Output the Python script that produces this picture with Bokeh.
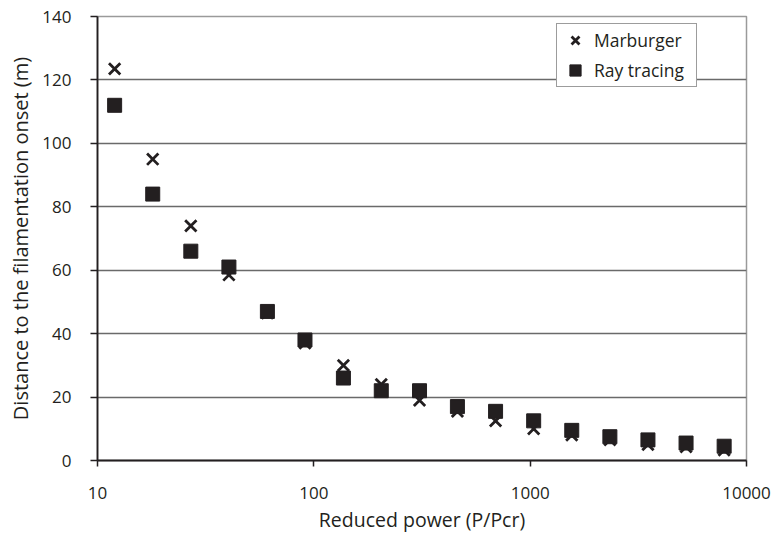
from bokeh.plotting import figure
from bokeh.models import Legend, LegendItem, FixedTicker
from bokeh.embed import file_html
from bokeh.resources import INLINE

# ---- data ----
power = [12, 18, 27, 40.5, 61, 91, 137, 205, 308, 461, 692, 1038, 1557, 2336, 3503, 5255, 7883]
marburger = [123.5, 95, 74, 58.5, 46.5, 37, 30, 24, 19, 15.5, 12.5, 10, 8, 6.5, 5, 4.3, 3.3]
ray_tracing = [112, 84, 66, 61, 47, 38, 26, 22, 22, 17, 15.5, 12.5, 9.5, 7.5, 6.5, 5.5, 4.5]
x_ticks = [10, 100, 1000, 10000]
x_tick_labels = ["10", "100", "1000", "10000"]
y_ticks = [0, 20, 40, 60, 80, 100, 120, 140]
series_names = ["Marburger", "Ray tracing"]

FONT = "Open Sans"
TICK_FS = "17px"
INK = "#231f20"

p = figure(width=771, height=535, x_axis_type="log",
           x_range=(x_ticks[0], x_ticks[-1]), y_range=(y_ticks[0], y_ticks[-1]),
           output_backend="svg", toolbar_location=None,
           min_border_left=97, min_border_right=25, min_border_top=16, min_border_bottom=75)
p.background_fill_color = "white"
p.border_fill_color = "white"
p.outline_line_color = "#9a9a9a"
p.outline_line_width = 1.5

r1 = p.scatter(power, marburger, marker="x", size=16, line_color=INK, line_width=2.8)
r2 = p.scatter(power, ray_tracing, marker="square", size=14, fill_color=INK, line_color=INK)

# axes
p.xaxis.ticker = FixedTicker(ticks=x_ticks)
p.xaxis.major_label_overrides = {t: l for t, l in zip(x_ticks, x_tick_labels)}
p.yaxis.ticker = FixedTicker(ticks=y_ticks)
p.yaxis.major_label_overrides = {t: str(t) for t in y_ticks}
for ax in (p.xaxis, p.yaxis):
    ax.major_label_text_font = FONT
    ax.major_label_text_font_size = TICK_FS
    ax.major_label_text_color = INK
    ax.axis_label_text_font = FONT
    ax.axis_label_text_font_style = "normal"
    ax.axis_label_text_color = INK
    ax.minor_tick_line_color = None
    ax.major_tick_in = 0
    ax.axis_line_color = INK
    ax.axis_line_width = 1.8
    ax.major_tick_line_color = INK
    ax.major_tick_line_width = 1.5
p.xaxis.axis_label_text_font_size = "19.5px"
p.yaxis.axis_label_text_font_size = "20px"
p.xaxis.major_tick_out = 6
p.yaxis.major_tick_out = 7
p.xaxis.major_label_standoff = 20
p.yaxis.major_label_standoff = 19
p.xaxis.axis_label = "Reduced power (P/Pcr)"
p.yaxis.axis_label = "Distance to the filamentation onset (m)"
p.xaxis.axis_label_standoff = 4
p.yaxis.axis_label_standoff = 5

# grid
p.xgrid.visible = False
p.ygrid.ticker = FixedTicker(ticks=y_ticks)
p.ygrid.grid_line_color = "#6a6a6a"
p.ygrid.grid_line_width = 1.3

legend = Legend(items=[LegendItem(label=series_names[0], renderers=[r1]),
                       LegendItem(label=series_names[1], renderers=[r2])],
                location=(459, 373))
legend.label_text_font = FONT
legend.label_text_font_size = "17.5px"
legend.label_text_color = INK
legend.glyph_width = 32
legend.glyph_height = 28
legend.label_height = 28
legend.label_width = 100
legend.spacing = 2
legend.padding = 2
legend.margin = 0
legend.label_standoff = 3
legend.border_line_color = "#3a3a3a"
legend.border_line_width = 1.2
legend.background_fill_color = "white"
legend.background_fill_alpha = 1
p.add_layout(legend)

open("out.html", "w").write(file_html(p, INLINE))
